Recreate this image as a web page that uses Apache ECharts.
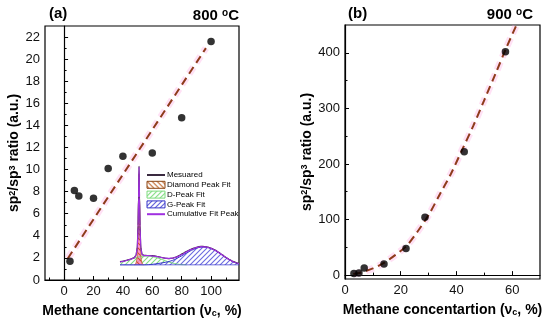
<!DOCTYPE html>
<html><head><meta charset="utf-8">
<script src="https://cdn.jsdelivr.net/npm/echarts@6/dist/echarts.min.js"></script>
<style>html,body{margin:0;padding:0;background:#fff}#c{width:550px;height:327px}</style>
</head><body><div id="c"></div>
<script>
// ---- Panel (a) 800 °C ----
const aX = [4, 7, 10, 20, 30, 40, 60, 80, 100];
const aY = [1.7, 8.1, 7.6, 7.4, 10.1, 11.2, 11.5, 14.7, 21.6];
const aFitX = [2.5, 96.5];
const aFitY = [1.95, 21.0];
const aXTicks = [0, 20, 40, 60, 80, 100];
const aXMinor = [-10, 10, 30, 50, 70, 90, 110];
const aYTicks = [0, 2, 4, 6, 8, 10, 12, 14, 16, 18, 20, 22];
const aYMinor = [1, 3, 5, 7, 9, 11, 13, 15, 17, 19, 21];

// ---- Panel (b) 900 °C ----
const bX = [3.2, 5, 6.9, 14, 21.9, 28.7, 42.8, 57.6];
const bY = [3, 4, 13, 20, 48, 104, 222, 402];
const bFitX = [3, 6, 10, 14, 18, 22, 26, 30, 34, 38, 42, 46, 50, 54, 58, 62];
const bFitY = [2, 5, 12, 22, 36, 52, 78, 108, 145, 182, 225, 268, 315, 362, 410, 455];
const bXTicks = [0, 20, 40, 60];
const bXMinor = [10, 30, 50];
const bYTicks = [0, 100, 200, 300, 400];
const bYMinor = [50, 150, 250, 350];

// ---- Inset Raman spectrum (arbitrary units) ----
const insetMeasured = [[0,3.5],[3,4],[6,5],[9,6],[12,7.5],[13.5,10],[14.5,18],[15.2,40],[15.6,70],[16,100],[16.4,70],[16.8,40],[17.5,18],[18.5,11],[20,9.8],[23,9.6],[26,9.6],[29,9.2],[32,8.5],[35,7.6],[38,6.8],[41,6.4],[44,6.8],[47,8],[50,9.8],[53,11.8],[56,13.8],[59,15.6],[62,17],[65,18.2],[68,18.8],[71,18.7],[74,18],[77,16.8],[80,15],[83,12.8],[86,10.2],[89,7.6],[92,5.5],[95,3.6],[98,2.2],[100,1.5]];
const insetCumulative = [[0,3],[4,4],[8,5.5],[12,7.2],[13.5,10],[14.5,17],[15.2,38],[15.6,68],[16,99],[16.4,68],[16.8,38],[17.5,17],[18.5,10.5],[20,9.5],[24,9.4],[28,9],[32,8.3],[36,7.3],[40,6.6],[44,6.9],[48,8.3],[52,10.6],[56,13.3],[60,15.8],[64,17.6],[68,18.5],[72,18.3],[76,17],[80,14.8],[84,11.8],[88,8.4],[92,5.2],[96,2.8],[100,1.3]];
const insetDiamond = [[12,0],[13.3,1.5],[14.3,7],[15,30],[15.5,62],[16,92],[16.5,62],[17,30],[17.7,7],[18.7,1.5],[20,0]];
const insetD = [[0,3],[4,4],[8,5.3],[12,6.8],[16,8.2],[20,9],[24,9],[28,8.3],[32,7],[36,5.3],[40,3.5],[44,2],[48,1],[52,0.3],[56,0]];
const insetG = [[0,0],[20,0],[24,0.3],[28,0.8],[32,1.5],[36,2.3],[40,3.2],[44,4.6],[48,6.8],[52,9.4],[56,12.2],[60,14.8],[64,16.8],[68,18],[72,18],[76,16.8],[80,14.6],[84,11.6],[88,8.3],[92,5.2],[96,2.7],[100,1.2]];
const insetBase = [[0,0],[100,0]];

function pairs(xs, ys) { return xs.map((x, i) => [x, ys[i]]); }
function hatch(lineColor, bg, dir) {
  const s = 5, c = document.createElement('canvas');
  c.width = s; c.height = s;
  const g = c.getContext('2d');
  if (bg) { g.fillStyle = bg; g.fillRect(0, 0, s, s); }
  g.strokeStyle = lineColor; g.lineWidth = 1.1;
  g.beginPath();
  if (dir === '/') {
    g.moveTo(-1, s + 1); g.lineTo(s + 1, -1);
    g.moveTo(-1, 1); g.lineTo(1, -1);
    g.moveTo(s - 1, s + 1); g.lineTo(s + 1, s - 1);
  } else {
    g.moveTo(-1, -1); g.lineTo(s + 1, s + 1);
    g.moveTo(s - 1, -1); g.lineTo(s + 1, 1);
    g.moveTo(-1, s - 1); g.lineTo(1, s + 1);
  }
  g.stroke();
  return { image: c, repeat: 'repeat' };
}

const FONT = 'Liberation Sans';
const BROWN = '#8E3B1B';
const axisLineStyle = { show: true, lineStyle: { color: '#000', width: 1.2 } };

function majorAxis(grid, min, max, ticks, extra) {
  return Object.assign({
    type: 'value', gridIndex: grid, min: min, max: max,
    axisLine: axisLineStyle,
    axisTick: { show: true, inside: true, length: 4, customValues: ticks, lineStyle: { color: '#000', width: 1 } },
    axisLabel: { show: true, customValues: ticks, fontSize: 13, color: '#111', fontFamily: FONT, margin: 5 },
    splitLine: { show: false }
  }, extra || {});
}
function minorAxis(grid, min, max, ticks, pos) {
  return {
    type: 'value', gridIndex: grid, min: min, max: max, position: pos,
    axisLine: { show: false },
    axisTick: { show: true, inside: true, length: 2.5, customValues: ticks, lineStyle: { color: '#000', width: 1 } },
    axisLabel: { show: false },
    splitLine: { show: false }
  };
}
const yNameStyle = {
  fontSize: 14, fontWeight: 'bold', color: '#000', fontFamily: FONT,
  rich: { sup: { fontSize: 9, fontWeight: 'bold', color: '#000', fontFamily: FONT, verticalAlign: 'top' } }
};
const xNameStyle = {
  fontSize: 14, fontWeight: 'bold', color: '#000', fontFamily: FONT,
  rich: { sub: { fontSize: 9, fontWeight: 'bold', color: '#000', fontFamily: FONT, verticalAlign: 'bottom' } }
};
const yName = 'sp{sup|2}/sp{sup|3} ratio (a.u.)';
const xName = 'Methane concentartion (ν{sub|c}, %)';
const titleStyle = {
  fontSize: 15, fontWeight: 'bold', color: '#000', fontFamily: FONT,
  rich: { sup: { fontSize: 10, fontWeight: 'bold', color: '#000', fontFamily: FONT, verticalAlign: 'top' } }
};
const noDot = { color: 'rgba(0,0,0,0)', borderColor: 'rgba(0,0,0,0)', borderWidth: 0 };

const chart = echarts.init(document.getElementById('c'), null, { renderer: 'canvas' });
chart.setOption({
  animation: false,
  textStyle: { fontFamily: FONT },
  title: [
    { text: '(a)', left: 49, top: 6, padding: 0, textStyle: titleStyle },
    { text: '800 {sup|o}C', right: 311, top: 8, padding: 0, textStyle: titleStyle },
    { text: '(b)', left: 348, top: 6, padding: 0, textStyle: titleStyle },
    { text: '900 {sup|o}C', right: 17, top: 7, padding: 0, textStyle: titleStyle }
  ],
  grid: [
    { left: 45, top: 26, width: 194, height: 254, show: true, borderColor: '#000', borderWidth: 1.2, backgroundColor: 'transparent' },
    { left: 345, top: 25, width: 195, height: 254, show: true, borderColor: '#000', borderWidth: 1.2, backgroundColor: 'transparent' },
    { left: 120, top: 166, width: 119, height: 99, show: false }
  ],
  legend: {
    data: [
      { name: 'Mesuared', itemStyle: noDot },
      { name: 'Diamond Peak Fit', icon: 'rect', itemStyle: { color: hatch('#c0662a', '#fff', '\\'), borderColor: '#8B4513', borderWidth: 1 } },
      { name: 'D-Peak Fit', icon: 'rect', itemStyle: { color: hatch('#7fdc7f', '#fff', '/'), borderColor: '#7fdc7f', borderWidth: 1 } },
      { name: 'G-Peak Fit', icon: 'rect', itemStyle: { color: hatch('#5a5ad8', '#fff', '/'), borderColor: '#3434c8', borderWidth: 1 } },
      { name: 'Cumulative Fit Peak', itemStyle: noDot }
    ],
    orient: 'vertical', left: 146, top: 171, padding: 0,
    itemWidth: 18, itemHeight: 7, itemGap: 1.8,
    selectedMode: false,
    textStyle: { fontSize: 8, color: '#000', fontFamily: FONT, padding: [0, 0, 0, -3] }
  },
  xAxis: [
    majorAxis(0, -13, 119, aXTicks, { position: 'bottom', name: xName, nameLocation: 'middle', nameGap: 24, nameTextStyle: xNameStyle }),
    minorAxis(0, -13, 119, aXMinor, 'bottom'),
    majorAxis(1, 0, 70, bXTicks, { position: 'bottom', name: xName, nameLocation: 'middle', nameGap: 24, nameTextStyle: xNameStyle }),
    minorAxis(1, 0, 70, bXMinor, 'bottom'),
    { type: 'value', gridIndex: 2, min: 0, max: 100, show: false }
  ],
  yAxis: [
    majorAxis(0, 0, 23, aYTicks, { position: 'left', name: yName, nameLocation: 'middle', nameRotate: 90, nameGap: 22, nameTextStyle: yNameStyle }),
    minorAxis(0, 0, 23, aYMinor, 'left'),
    majorAxis(1, -7, 450, bYTicks, { position: 'left', name: yName, nameLocation: 'middle', nameRotate: 90, nameGap: 30, nameTextStyle: yNameStyle }),
    minorAxis(1, -7, 450, bYMinor, 'left'),
    { type: 'value', gridIndex: 2, min: 0, max: 100, show: false }
  ],
  series: [
    // panel (a)
    { type: 'line', xAxisIndex: 0, yAxisIndex: 0, data: pairs(aFitX, aFitY), symbol: 'none', silent: true, z: 1,
      lineStyle: { color: 'rgba(255,170,225,0.35)', width: 7, type: [8, 5], cap: 'butt' } },
    { type: 'line', xAxisIndex: 0, yAxisIndex: 0, data: pairs(aFitX, aFitY), symbol: 'none', z: 2,
      lineStyle: { color: BROWN, width: 2, type: [8, 5], cap: 'butt' } },
    { type: 'scatter', xAxisIndex: 0, yAxisIndex: 0, data: pairs(aX, aY), symbol: 'circle', symbolSize: 7.5, z: 5,
      itemStyle: { color: '#000' } },
    // panel (b)
    { type: 'line', xAxisIndex: 2, yAxisIndex: 2, data: pairs(bFitX, bFitY), symbol: 'none', smooth: 0.3, silent: true, z: 1,
      lineStyle: { color: 'rgba(255,170,225,0.35)', width: 7, type: [8, 5], cap: 'butt' } },
    { type: 'line', xAxisIndex: 2, yAxisIndex: 2, data: pairs(bFitX, bFitY), symbol: 'none', smooth: 0.3, z: 2,
      lineStyle: { color: BROWN, width: 2, type: [8, 5], cap: 'butt' } },
    { type: 'scatter', xAxisIndex: 2, yAxisIndex: 2, data: pairs(bX, bY), symbol: 'circle', symbolSize: 7.5, z: 5,
      itemStyle: { color: '#000' } },
    // inset
    { name: 'D-Peak Fit', type: 'line', xAxisIndex: 4, yAxisIndex: 4, data: insetD, symbol: 'none', smooth: 0.3, z: 3,
      itemStyle: { color: '#7fdc7f' }, lineStyle: { color: '#7fdc7f', width: 1 },
      areaStyle: { color: hatch('#7fdc7f', 'rgba(255,255,255,0.9)', '/'), opacity: 1 } },
    { name: 'G-Peak Fit', type: 'line', xAxisIndex: 4, yAxisIndex: 4, data: insetG, symbol: 'none', smooth: 0.3, z: 3,
      itemStyle: { color: '#3434c8' }, lineStyle: { color: '#3434c8', width: 1 },
      areaStyle: { color: hatch('#6a6ae0', 'rgba(255,255,255,0.9)', '/'), opacity: 1 } },
    { name: 'Diamond Peak Fit', type: 'line', xAxisIndex: 4, yAxisIndex: 4, data: insetDiamond, symbol: 'none', smooth: 0.2, z: 3,
      itemStyle: { color: '#8B4513' }, lineStyle: { color: '#c0662a', width: 0.8 },
      areaStyle: { color: hatch('#d0503a', 'rgba(255,120,190,0.8)', '\\'), opacity: 1 } },
    { name: 'base', type: 'line', xAxisIndex: 4, yAxisIndex: 4, data: insetBase, symbol: 'none', z: 3,
      lineStyle: { color: '#4040d0', width: 1.2 } },
    { name: 'Mesuared', type: 'line', xAxisIndex: 4, yAxisIndex: 4, data: insetMeasured, symbol: 'none', smooth: 0.2, smoothMonotone: 'x', z: 4,
      itemStyle: { color: '#3a2a40' }, lineStyle: { color: '#3a2a40', width: 1.2 } },
    { name: 'Cumulative Fit Peak', type: 'line', xAxisIndex: 4, yAxisIndex: 4, data: insetCumulative, symbol: 'none', smooth: 0.2, smoothMonotone: 'x', z: 4,
      itemStyle: { color: '#a030e0' }, lineStyle: { color: '#a030e0', width: 1.2 } }
  ]
});
</script>
</body></html>
